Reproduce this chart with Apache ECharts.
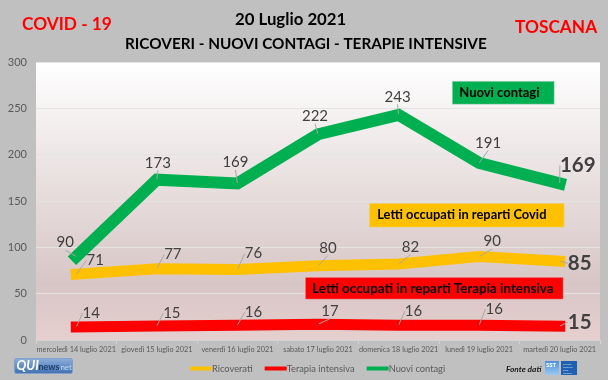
<!DOCTYPE html>
<html><head><meta charset="utf-8">
<script src="https://cdn.jsdelivr.net/npm/echarts@6/dist/echarts.min.js"></script>
<style>html,body{margin:0;padding:0;background:#c0c0c0}#c{width:608px;height:380px}</style>
</head><body><div id="c"></div>
<script>
const categories = ['mercoledì 14 luglio 2021','giovedì 15 luglio 2021','venerdì 16 luglio 2021','sabato 17 luglio 2021','domenica 18 luglio 2021','lunedì 19 luglio 2021','martedì 20 luglio 2021'];
const ricoverati = [71, 77, 76, 80, 82, 90, 85];
const terapiaIntensiva = [14, 15, 16, 17, 16, 16, 15];
const nuoviContagi = [90, 173, 169, 222, 243, 191, 169];
const yTicks = [0, 50, 100, 150, 200, 250, 300];

// label offsets (pixels) relative to each point, like the moved Excel data labels
const offRic = [[19,-14],[16,-14],[16,-16],[10,-18],[12,-17],[13,-15],[20,2]];
const offTer = [[15,-14],[15,-13],[16,-13],[12,-13],[15,-14],[15,-16],[20,-4]];
const offNuo = [[-11,-14],[1,-17],[-2,-21],[-3,-18],[-1,-18],[9,-20],[18,-18]];

const FONT = 'Lato';
const chart = echarts.init(document.getElementById('c'), null, {renderer:'canvas'});

function mkData(arr){
  return arr.map((v,i)=>{
    const last = i === arr.length-1;
    return {value:v, label: last ? {fontSize:20.5, fontWeight:'bold', color:'#404040'} : {}};
  });
}
function mkSeries(name, arr, color, offs, width){
  return {
    name, type:'line', data: mkData(arr),
    symbol:'circle', symbolSize:1, showSymbol:true,
    itemStyle:{color},
    lineStyle:{color, width, cap:'square', join:'miter'},
    label:{show:true, position:'inside', fontFamily:FONT, fontSize:15, color:'#404040'},
    labelLine:{show:true, lineStyle:{color:'#a6a6a6', width:1}},
    labelLayout: function(p){ const o = offs[p.dataIndex]; return {dx:o[0], dy:o[1]}; },
    emphasis:{disabled:true}, silent:true, animation:false, z:2
  };
}

const option = {
  animation:false,
  backgroundColor:'#c0c0c0',
  textStyle:{fontFamily:FONT},
  grid:{left:36, right:8, top:62, bottom:40, show:true, borderWidth:0,
    backgroundColor:{type:'linear', x:0, y:0, x2:0, y2:1, colorStops:[
      {offset:0, color:'#ffffff'},{offset:0.45, color:'#e8dede'},{offset:0.8, color:'#d8c6c6'},{offset:1, color:'#e6cfcf'}]}},
  xAxis:{type:'category', data:categories, boundaryGap:true,
    axisLine:{lineStyle:{color:'#d4d4d4'}},
    axisTick:{show:true, length:4, lineStyle:{color:'#d4d4d4'}},
    axisLabel:{fontFamily:FONT, fontSize:7.3, color:'#595959', margin:6, interval:0}},
  yAxis:{type:'value', min:yTicks[0], max:yTicks[yTicks.length-1], interval:50,
    axisLine:{show:false}, axisTick:{show:false},
    axisLabel:{fontFamily:FONT, fontSize:11, color:'#595959', margin:9},
    splitLine:{lineStyle:{color:'#e4e4e4', width:1}}},
  legend:{left:185, top:359, icon:'rect', itemWidth:22, itemHeight:4, itemGap:12,
    textStyle:{fontFamily:FONT, fontSize:9.3, color:'#595959', padding:[0,0,0,-5]},
    data:['Ricoverati','Terapia intensiva','Nuovi contagi']},
  series:[
    mkSeries('Ricoverati', ricoverati, '#ffc000', offRic, 11),
    mkSeries('Terapia intensiva', terapiaIntensiva, '#ff0000', offTer, 11),
    mkSeries('Nuovi contagi', nuoviContagi, '#00b050', offNuo, 12)
  ],
  graphic:[
    {type:'text', left:22, top:16, style:{text:'COVID - 19', fill:'#ff0000', font:'bold 17.3px Lato'}},
    {type:'text', left:235, top:11, style:{text:'20 Luglio 2021', fill:'#000', font:'bold 16.8px Lato'}},
    {type:'text', left:125, top:37, style:{text:'RICOVERI - NUOVI CONTAGI - TERAPIE INTENSIVE', fill:'#000', font:'bold 15.3px Lato'}},
    {type:'text', left:515, top:19, style:{text:'TOSCANA', fill:'#ff0000', font:'bold 17.3px Lato'}},
    // annotation boxes
    {type:'group', left:452, top:81, z:100, children:[
      {type:'rect', z:100, shape:{x:0,y:0,width:102,height:23}, style:{fill:'#00b050', stroke:'#d9d9d9', lineWidth:0.5}},
      {type:'text', z:101, x:7, y:11.5, style:{text:'Nuovi contagi', fill:'#000', font:'bold 13px Lato', verticalAlign:'middle'}}]},
    {type:'group', left:369, top:203, z:100, children:[
      {type:'rect', z:100, shape:{x:0,y:0,width:195,height:24}, style:{fill:'#ffc000', stroke:'#d9d9d9', lineWidth:0.5}},
      {type:'text', z:101, x:8, y:12, style:{text:'Letti occupati in reparti Covid', fill:'#000', font:'bold 12.9px Lato', verticalAlign:'middle'}}]},
    {type:'group', left:305, top:277, z:100, children:[
      {type:'rect', z:100, shape:{x:0,y:0,width:258,height:22}, style:{fill:'#ff0000', stroke:'#d9d9d9', lineWidth:0.5}},
      {type:'text', z:101, x:7, y:11, style:{text:'Letti occupati in reparti Terapia intensiva', fill:'#000', font:'bold 13.4px Lato', verticalAlign:'middle'}}]},
    // QUInews logo
    {type:'group', left:14, top:358, children:[
      {type:'rect', shape:{x:0,y:0,width:58,height:15,r:2}, style:{fill:{type:'linear',x:0,y:0,x2:0,y2:1,colorStops:[{offset:0,color:'#8fb0dc'},{offset:1,color:'#3f6fae'}]}, stroke:'#7f9fcf'}},
      {type:'text', x:2, y:7.5, style:{text:'QUI', fill:'#fff', font:'italic bold 13px Lato', verticalAlign:'middle'}},
      {type:'text', x:24, y:9, style:{text:'news', fill:'#1f3f70', font:'bold 9px Lato', verticalAlign:'middle'}},
      {type:'text', x:44, y:9, style:{text:'.net', fill:'#c9dbf3', font:'8px Lato', verticalAlign:'middle'}}]},
    // Fonte dati + SST logo
    {type:'text', left:506, top:365, style:{text:'Fonte dati', fill:'#1a1a1a', font:'italic bold 8.3px Lato'}},
    {type:'group', left:545, top:361, children:[
      {type:'rect', shape:{x:0,y:0,width:14,height:14}, style:{fill:{type:'linear',x:0,y:0,x2:0,y2:1,colorStops:[{offset:0,color:'#4a90d9'},{offset:1,color:'#9cc8f0'}]}}},
      {type:'text', x:1, y:1, style:{text:'SST', fill:'#fff', font:'bold 6px Lato'}},
      {type:'rect', shape:{x:16,y:0,width:16,height:14}, style:{fill:'#2060b0'}},
      {type:'text', x:18, y:2, style:{text:'Servizio\nSanitario\ndella\nToscana', fill:'#cfe0f5', font:'2.5px Lato', lineHeight:3}}]}
  ]
};
chart.setOption(option);
</script></body></html>
